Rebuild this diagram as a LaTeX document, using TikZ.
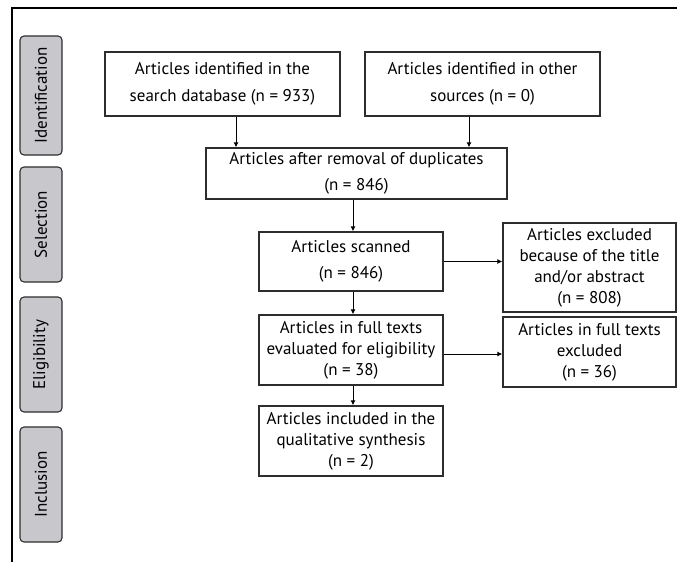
\documentclass[tikz,border=0pt]{standalone}
\usepackage{fontspec}
\setmainfont{PT Sans}
\usepackage{xcolor}
\usetikzlibrary{arrows.meta}

\definecolor{stagegray}{RGB}{200,200,204}
\definecolor{linegray}{RGB}{45,45,45}

\tikzset{
  box/.style={draw=linegray, line width=1.3pt, fill=white, align=center, inner xsep=0pt, inner ysep=2pt},
  stage/.style={draw=linegray, line width=1.1pt, fill=stagegray, rounded corners=4pt,
    minimum height=42pt, rotate=90, inner sep=0pt},
  flow/.style={line width=1pt, -{Latex[length=5pt,width=5pt]}}
}

\begin{document}
\begin{tikzpicture}[x=1pt, y=-1pt, font=\fontsize{17}{21}\selectfont]
  \useasboundingbox (0, 0) rectangle (677, 562);
  \draw[line width=1.2pt] (677, 8) -- (12, 8) -- (12, 562);

  \node[stage, minimum width=119pt] (ident) at (41, 95.5) {Identification};
  \node[stage, minimum width=115pt] (selec) at (41, 224.5) {Selection};
  \node[stage, minimum width=115pt] (eligi) at (41, 354.5) {Eligibility};
  \node[stage, minimum width=115pt] (inclu) at (41, 484.5) {Inclusion};

  \node[box, minimum width=235pt, minimum height=64pt] (search) at (222.5, 84)
    {Articles identified in the\\[6pt] search database (n = 933)};
  \node[box, minimum width=235pt, minimum height=64pt] (other) at (482.5, 84)
    {Articles identified in other\\[6pt] sources (n = 0)};
  \node[box, minimum width=301pt, minimum height=51pt] (dupl) at (356.5, 173.5)
    {Articles after removal of duplicates\\[5pt] (n = 846)};
  \node[box, minimum width=184pt, minimum height=59pt] (scanned) at (351, 261.5)
    {Articles scanned\\[5pt] (n = 846)};
  \node[box, minimum width=173pt, minimum height=89pt] (exclone) at (589.5, 267.5)
    {Articles excluded\\ because of the title\\ and/or abstract\\ (n = 808)};
  \node[box, minimum width=184pt, minimum height=70pt] (fulltext) at (351, 350)
    {Articles in full texts\\ evaluated for eligibility\\ (n = 38)};
  \node[box, minimum width=173pt, minimum height=70pt] (excltwo) at (589.5, 352)
    {Articles in full texts\\ excluded\\ (n = 36)};
  \node[box, minimum width=184pt, minimum height=70pt] (included) at (351, 441)
    {Articles included in the\\ qualitative synthesis\\ (n = 2)};

  \draw[flow] ([xshift=13.5pt]search.south) -- ([xshift=13.5pt]search.south |- dupl.north);
  \draw[flow] ([xshift=-13.5pt]other.south) -- ([xshift=-13.5pt]other.south |- dupl.north);
  \draw[flow] ([xshift=2pt]scanned.north |- dupl.south) -- ([xshift=2pt]scanned.north);
  \draw[flow] ([xshift=2pt]scanned.south) -- ([xshift=2pt]scanned.south |- fulltext.north);
  \draw[flow] ([xshift=2pt]fulltext.south) -- ([xshift=2pt]fulltext.south |- included.north);
  \draw[flow] (scanned.east) -- (scanned.east -| exclone.west);
  \draw[flow] ([yshift=-4pt]fulltext.east) -- ([yshift=-4pt]fulltext.east -| excltwo.west);
\end{tikzpicture}
\end{document}
